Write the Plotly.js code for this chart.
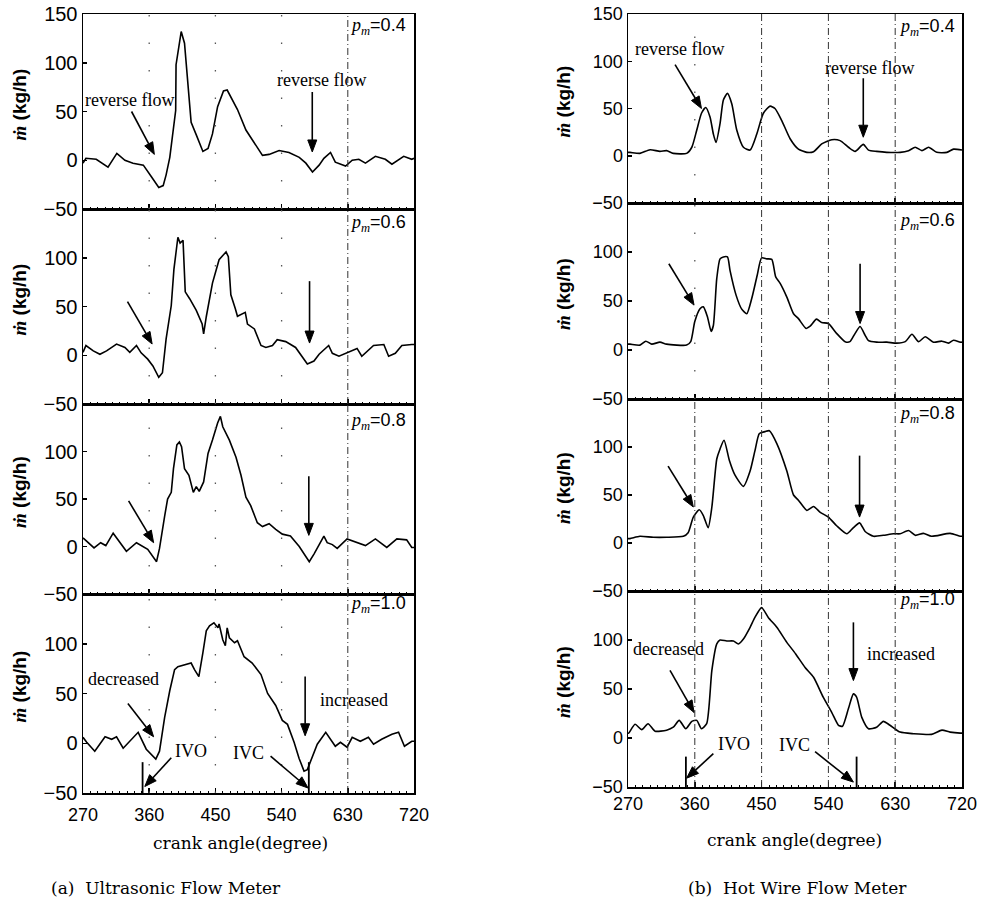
<!DOCTYPE html>
<html><head><meta charset="utf-8">
<script src="https://cdn.plot.ly/plotly-3.0.1.min.js"></script>
<style>html,body{margin:0;padding:0;background:#fff}#chart{width:983px;height:912px}</style>
</head><body><div id="chart"></div>
<script>
// ---------- DATA (crank angle in degrees, mass flow in kg/h) ----------
// (a) Ultrasonic flow meter
const usAng1 = [270,274,288,304,316,327,338,352,363,373,379,383,388,392,395,396,396.5,400,403.5,408,412.5,417,424,433,440,446,453,461,466,473,480,491.5,503,514,523,536.6,550,564,573,582,591,597.5,606.5,613,627,636,645,654,667.5,681,690,706,717,720];
const usVal1 = [-3,2,1,-7,7,0,-3,-5,-17,-28,-26,-15,3,27,40,51,98,113,132,120,79,39,26,9,12,27,55,71,72,62,52,31,17,5,6,10,8,3,-3,-12,-5,2,8,-2,-6,0,1,-3,4,1,-4,4,1,2];
const usAng2 = [270,274,284,293,302,315.6,327,333.6,342.7,349,358,365,373,378,383,390,393.6,399,402,406,409,415,424,432,434,437.6,446,455,461,464.5,467.6,471,477,480,490.6,493.6,503,512,518.6,527.6,534,545.6,559,568,575,584,591,604,609,618,631,642.6,649,665,679,685.5,694.6,703.5,717,720];
const usVal2 = [3,10,4.5,1,4.5,11.5,8,3,10,2.5,-4,-11,-22.6,-18,16.7,51,88,121,115,118,65,58,46,32,22,39.5,74,98,103,106,101,62,48,40,44,32,27,10,8,10,16,14,8,-1,-9,-6,1,10,2,-1,3,7,-1,10,11,-1,2,10,11,11];
const usAng3 = [270,276.6,285,294,301,311,320,329,342.7,349,358,370,374,381,385,390,393,397.6,401,404,408,414,420,424,428,434,440,446,453,456.8,460,469,478,484.8,491.5,498,507,514,523,532,541,552,564,577.6,584,597.5,602,609,615.6,629,642.6,654,667.5,683,696.7,710,717,720];
const usVal3 = [9,4,-1.5,4,1,14,4,-5,4,1,-3,-16,-2,32,50,57,82,107,110,105,82,75,57,63,58,68,98,112,130,137,126,112,94,75,52,43,25,21,24,18,13,11,0,-16,-8,11,4,2,-2,8,4,1,8,-1,8,7,-1,-1];
const usAng4 = [270,275,286,300,309,315.6,324.6,336,345,356,369,374,381,388,394.5,399,410,417,421.6,427.5,433,437.6,442,448,453.5,455,460,463.5,466,469,476,480,489,500,512,521,532,541,548,557,563.7,570.5,575,579.5,588.5,600,606.5,613,620,629,636,647,658,665,676,690,699,707,717,720];
const usVal4 = [6,1,-8,6.5,4,6.5,-5,4,11,-6,-16,-8,26,53,74,77,79,80.6,74,67,91,113,118,121,116,120,104,98,116,106,101,103,87,80.6,69,50,38,23,19,1,-15,-28,-26.5,-18,-1,11,4,-3,1,-4,6,2,6,-1,4,9,11,-3,2,2];

// (b) Hot wire flow meter
const hwAng1 = [270,272.7,286,299.7,313,322,331,349,356,362.6,369,374.7,380.5,385,388.6,394,398.5,404,409.8,416.6,425.5,434.5,443.5,452.4,461.4,468,477,488.4,499.6,511,520,531,544.6,555.8,567,576,587,594,605,618.7,636.7,648,657,666,675,686,699.6,708.6,720];
const hwVal1 = [3.6,3.6,2.5,6.4,4.6,5.4,2.5,2.5,9,27,45,51,41,23,14,34,59,66,55,27,9,6,23,45,52.5,50,37.5,18,7,3.6,4.3,12.5,17,16,9,4.6,12,6,4.6,3.6,3.6,5.4,9,5.4,9,3.6,3.6,7,6];
const hwAng2 = [270,272.7,286,294,302,313,322,349,354.5,360,367,371.5,377,382,385,389.6,394,398.5,404,407.5,415.6,423,430,436.7,444,450,457,463.7,469,475,484,493,499.6,510,515,524,531,540,551,562.5,569,576,582.7,589.5,594,605,618.7,632,643.6,652.6,661.5,670.5,681.6,692.9,701.8,708.6,717.6,720];
const hwVal2 = [6,6,5,9,6,8,6,5,8.5,29,42,44,34,19,25,73,93,95,95,81,56,42,37,52.5,76,94,93,92.5,74.6,68,54,37,32,22,24,31.5,28,27,17,8.5,8.5,17,24,15,9.5,8,8,7,8.5,16,8.5,13.5,8,9,7,10,8,8];
const hwAng3 = [270,272.7,286,304,322,344.6,351,358,366,371.5,378,383,389.6,394,399.4,406.6,414,425.5,434.5,441,447,454.7,460.5,470.5,484,493,499.6,511,520,529,540,551,564.8,573.7,582,589.5,600.7,614,627.6,636.7,648,657,668,679,704,717.6,720];
const hwVal3 = [4.6,4.6,7,6,6,7,10.7,27,34.6,28.6,16,37.5,87.5,98,107,86,71,59,75,96,114,116,117,103.6,75,50,44.6,34,38,32,27,18,9.6,16,21,12,7,8,9.6,9.6,13,8,10,7,10,7,7];
const hwAng4 = [270,271,279.5,288.5,297,306.5,322,331,339,347.8,356,362.6,369,376,383,389.6,394,403,412,418.7,425.5,434.5,441,450,459,470.5,484,495.7,508.6,520,533,544.6,553.6,559,567,573.7,578,585,594,605,614,623,636.7,654.6,679,692.9,704,717.6,720];
const hwVal4 = [5,5,14,8.5,14.6,7,8,11,18,9.5,17,18,9.5,14.6,69,96,100,99,99,96,101,113,123,133,123,113,97.6,86,72,62,41.7,26,13,12,30,45,41.7,21,9.5,11,17,13,6,4.4,3.7,8,6,5,5];

const tickAngles = [270,360,450,540,630,720];
const tickLabels = ['270','360','450','540','630','720'];
const flowTicks = [-50,0,50,100,150];
const pmLabels = ['0.4','0.6','0.8','1.0'];

// ---------- LAYOUT GEOMETRY ----------
const W = 983, H = 912;
const px = v => v / W, py = v => 1 - v / H;
const leftPx = [83, 414], rightPx = [628, 962];
const leftX = [px(leftPx[0]), px(leftPx[1])];
const rightX = [px(rightPx[0]), px(rightPx[1])];
const leftRows = [[14,209],[209,404],[404,594],[594,793]];
const rightRows = [[14,203],[203,399],[399,591],[591,787]];

const sets = [
  [usAng1,usVal1],[usAng2,usVal2],[usAng3,usVal3],[usAng4,usVal4],
  [hwAng1,hwVal1],[hwAng2,hwVal2],[hwAng3,hwVal3],[hwAng4,hwVal4]
];

const traces = sets.map((s,i) => ({
  x: s[0], y: s[1], type:'scatter', mode:'lines',
  xaxis: i===0 ? 'x' : 'x'+(i+1), yaxis: i===0 ? 'y' : 'y'+(i+1),
  line: i < 4 ? {color:'#000', width:1.6} : {color:'#000', width:1.6, shape:'spline', smoothing:0.6},
  hoverinfo:'skip', showlegend:false
}));

const layout = {
  width: W, height: H, margin:{l:0,r:0,t:0,b:0},
  paper_bgcolor:'#fff', plot_bgcolor:'#fff', showlegend:false,
  annotations: [], shapes: []
};

function axName(i){ return i===0 ? '' : String(i+1); }

for (let i=0;i<8;i++){
  const left = i<4;
  const row = left ? leftRows[i] : rightRows[i-4];
  const bottom = (i%4)===3;
  const n = axName(i);
  layout['xaxis'+n] = {
    domain: left ? leftX : rightX, anchor: 'y'+n, range:[270,720],
    tickmode:'array', tickvals: tickAngles, ticktext: tickLabels,
    ticks:'inside', ticklen:5, tickwidth:1.5, tickcolor:'#000',
    showticklabels: bottom, ticklabelstandoff: left ? 5 : 0,
    tickfont:{family:'Liberation Sans, Arial, sans-serif', size:18, color:'#000'},
    showline:true, linecolor:'#000', linewidth:1.5, mirror:true,
    showgrid:false, zeroline:false, fixedrange:true,
    minor:{ticks:'inside', ticklen:2.5, tickwidth:1, tickcolor:'#000', dtick:10, tick0:270}
  };
  layout['yaxis'+n] = {
    domain:[py(row[1]), py(row[0])], anchor:'x'+n, range:[-50,150],
    tickmode:'array', tickvals: (i%4)===0 ? flowTicks : flowTicks.slice(0,4),
    ticks:'inside', ticklen:4, tickwidth:1.5, tickcolor:'#000',
    tickfont:{family:'Liberation Sans, Arial, sans-serif', size: left ? 20 : 18, color:'#000'},
    showline:true, linecolor:'#000', linewidth:1.5, mirror:true,
    showgrid:false, zeroline:false, fixedrange:true
  };
  // y-axis title
  const cy = (row[0]+row[1])/2 - 7;
  layout.annotations.push({
    xref:'paper', yref:'paper', x: left ? px(19) : px(563), y: py(cy),
    xanchor:'center', yanchor:'middle',
    text:'<span style="font-family:Liberation Serif, DejaVu Serif, serif"><b><i>ṁ</i></b></span><b> (kg/h)</b>',
    textangle:-90, showarrow:false,
    font:{family:'Liberation Sans, Arial, sans-serif', size:19, color:'#000'}
  });
  // p_m label
  layout.annotations.push({
    xref:'x'+n, yref:'y'+n, x: left ? 712 : 713, y: [137,135,132,139,136,131,134,140][i],
    xanchor:'right', yanchor:'middle', showarrow:false,
    text:'<i>p</i><sub><i>m</i></sub><span style="font-family:Liberation Sans, Arial">=' + pmLabels[i%4] + '</span>',
    font:{family:'Liberation Serif, Times New Roman, serif', size:18, color:'#000'}
  });
  // reference lines
  const dashdot = {type:'line', xref:'x'+n, yref:'y'+n+' domain', y0:0, y1:1,
                   line:{color:'#333', width:1, dash:'7px,3px,1px,3px'}};
  const dots = {type:'line', xref:'x'+n, yref:'y'+n+' domain', y0:0, y1:1,
                line:{color:'#555', width:1.3, dash:'1.5px,26px'}};
  if (left){
    layout.shapes.push(Object.assign({}, dashdot, {x0:630, x1:630}));
    [360,450,540].forEach(a => layout.shapes.push(Object.assign({}, dots, {x0:a, x1:a})));
  } else {
    [450,540,630].forEach(a => layout.shapes.push(Object.assign({}, dashdot, {x0:a, x1:a})));
    if (i>=6) layout.shapes.push(Object.assign({}, dashdot, {x0:360, x1:360}));
    else layout.shapes.push(Object.assign({}, dots, {x0:360, x1:360}));
  }
}

const serif = {family:'Liberation Serif, Times New Roman, serif', size:18, color:'#000'};
function label(p, x, y, t){
  layout.annotations.push({xref:'x'+axName(p), yref:'y'+axName(p), x:x, y:y, xanchor:'center', yanchor:'middle', text:t, showarrow:false, font:serif});
}
// arrow = line shape + filled triangle head (pixel-sized, anchored at the tip)
function arrow(p, x, y, ax, ay){
  const n = axName(p);
  const left = p < 4;
  const row = left ? leftRows[p] : rightRows[p-4];
  const cols = left ? leftPx : rightPx;
  const sx = (cols[1]-cols[0]) / 450;     // px per degree
  const sy = (row[1]-row[0]) / 200;       // px per kg/h
  const dxp = (x-ax)*sx, dyp = (y-ay)*sy; // pixel direction, y up
  const L = Math.hypot(dxp, dyp);
  const ux = dxp/L, uy = dyp/L;
  const h = 12, w = 4.5;
  const bx = -ux*h, by = -uy*h;
  const pxp = -uy*w, pyp = ux*w;
  layout.shapes.push({type:'line', xref:'x'+n, yref:'y'+n, x0:ax, y0:ay,
    x1: x + bx/sx, y1: y + by/sy, line:{color:'#000', width:1.6}});
  const f = v => v.toFixed(2);
  layout.shapes.push({type:'path', xref:'x'+n, yref:'y'+n, xsizemode:'pixel', ysizemode:'pixel',
    xanchor:x, yanchor:y,
    path:'M0,0 L'+f(bx+pxp)+','+f(by+pyp)+' L'+f(bx-pxp)+','+f(by-pyp)+' Z',
    fillcolor:'#000', line:{color:'#000', width:1}});
}
function vmark(p, x){
  layout.shapes.push({type:'line', xref:'x'+axName(p), yref:'y'+axName(p), x0:x, x1:x, y0:-19, y1:-50, line:{color:'#000', width:1.8}});
}

// (a) panels
label(0, 333, 62, 'reverse flow'); arrow(0, 367, 6, 336, 50);
label(0, 594, 82, 'reverse flow'); arrow(0, 581.7, 8.5, 581.7, 70);
arrow(1, 364, 11.5, 330.5, 55); arrow(1, 578, 12.5, 578, 76);
arrow(2, 366, 4, 332, 48); arrow(2, 577, 11.7, 577, 74);
label(3, 325, 65, 'decreased'); arrow(3, 366, 6.5, 331, 40);
label(3, 638, 43, 'increased'); arrow(3, 572, 7.5, 572, 67);
label(3, 417, -8, 'IVO'); arrow(3, 354, -43.5, 390, -14.6);
label(3, 495, -9.5, 'IVC'); arrow(3, 576, -45, 525, -13);
vmark(3, 351); vmark(3, 577);

// (b) panels
label(4, 340, 113, 'reverse flow'); arrow(4, 369, 50, 333.4, 96.4);
label(4, 596, 93, 'reverse flow'); arrow(4, 587, 19.6, 587, 82);
arrow(5, 359, 45.8, 325, 88); arrow(5, 582.7, 27, 582.7, 88);
arrow(6, 358, 37.5, 324, 80); arrow(6, 582, 27, 582, 91);
label(7, 324, 91, 'decreased'); arrow(7, 359, 26, 326.6, 69);
label(7, 638, 86, 'increased'); arrow(7, 573.7, 58.6, 573.7, 118);
label(7, 413, -5.8, 'IVO'); arrow(7, 349, -41, 385, -16);
label(7, 494, -7.5, 'IVC'); arrow(7, 573.7, -45, 522, -14);
vmark(7, 348); vmark(7, 578);

// x titles and captions
const capFont = {family:'DejaVu Serif, Liberation Serif, serif', size:17, color:'#000'};
function paperText(x, y, t, f){
  layout.annotations.push({xref:'paper', yref:'paper', x:px(x), y:py(y), xanchor:'center', yanchor:'middle', text:t, showarrow:false, font:f});
}
paperText(240, 843, 'crank angle(degree)', capFont);
paperText(794, 840, 'crank angle(degree)', capFont);
paperText(166, 888, '(a)  Ultrasonic Flow Meter', capFont);
paperText(797, 888, '(b)  Hot Wire Flow Meter', capFont);

Plotly.newPlot('chart', traces, layout, {staticPlot:true, displayModeBar:false});
</script></body></html>
